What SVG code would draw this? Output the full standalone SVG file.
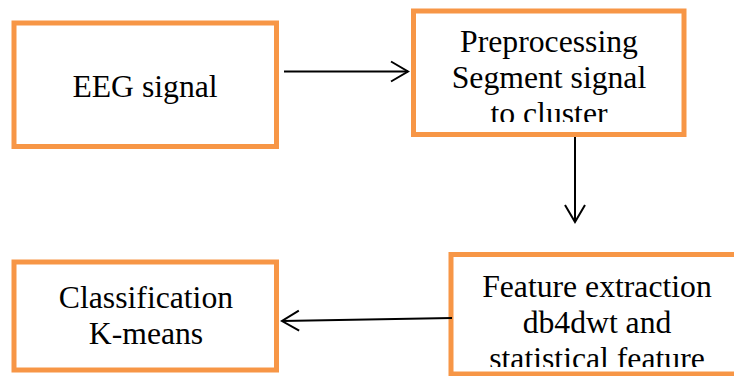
<svg xmlns="http://www.w3.org/2000/svg" width="734" height="376" viewBox="0 0 734 376">
<style>
.box{fill:#fff;stroke:#F79646;stroke-width:5}
.t{font-family:"Liberation Serif","Times New Roman",serif;font-size:31.7px;fill:#000;text-anchor:middle}
.c{fill:none;stroke:#000;stroke-width:2}
</style>
<defs>
<marker id="ah" viewBox="0 0 20 24" refX="18" refY="12" markerWidth="20" markerHeight="24" markerUnits="userSpaceOnUse" orient="auto">
<path d="M1,2 L18,12 L1,22" fill="none" stroke="#000" stroke-width="2"/>
</marker>
<clipPath id="c2"><rect x="416" y="14" width="266" height="108"/></clipPath>
<clipPath id="c3"><rect x="454" y="257" width="280" height="110"/></clipPath>
</defs>
<rect width="734" height="376" fill="#fff"/>
<g id="eeg">
<rect class="box" x="14" y="23" width="262.5" height="123.5"/>
<text class="t" x="145" y="97">EEG signal</text>
</g>
<g id="preprocessing">
<rect class="box" x="413.5" y="11" width="270.5" height="123.5"/>
<g clip-path="url(#c2)">
<text class="t" x="549" y="52">Preprocessing</text>
<text class="t" x="549" y="88">Segment signal</text>
<text class="t" x="549" y="124">to cluster</text>
</g>
</g>
<g id="feature">
<rect class="box" x="451" y="254.5" width="300" height="119.5"/>
<g clip-path="url(#c3)">
<text class="t" x="597" y="297">Feature extraction</text>
<text class="t" x="597" y="333">db4dwt and</text>
<text class="t" x="597" y="369">statistical feature</text>
</g>
</g>
<g id="classification">
<rect class="box" x="14" y="262" width="262.5" height="108"/>
<text class="t" x="146" y="308">Classification</text>
<text class="t" x="146" y="344">K-means</text>
</g>
<g id="connectors">
<line class="c" x1="284" y1="71.5" x2="408" y2="71.5" marker-end="url(#ah)"/>
<line class="c" x1="575" y1="137" x2="575" y2="222" marker-end="url(#ah)"/>
<line class="c" x1="452" y1="318" x2="282" y2="321" marker-end="url(#ah)"/>
</g>
</svg>
